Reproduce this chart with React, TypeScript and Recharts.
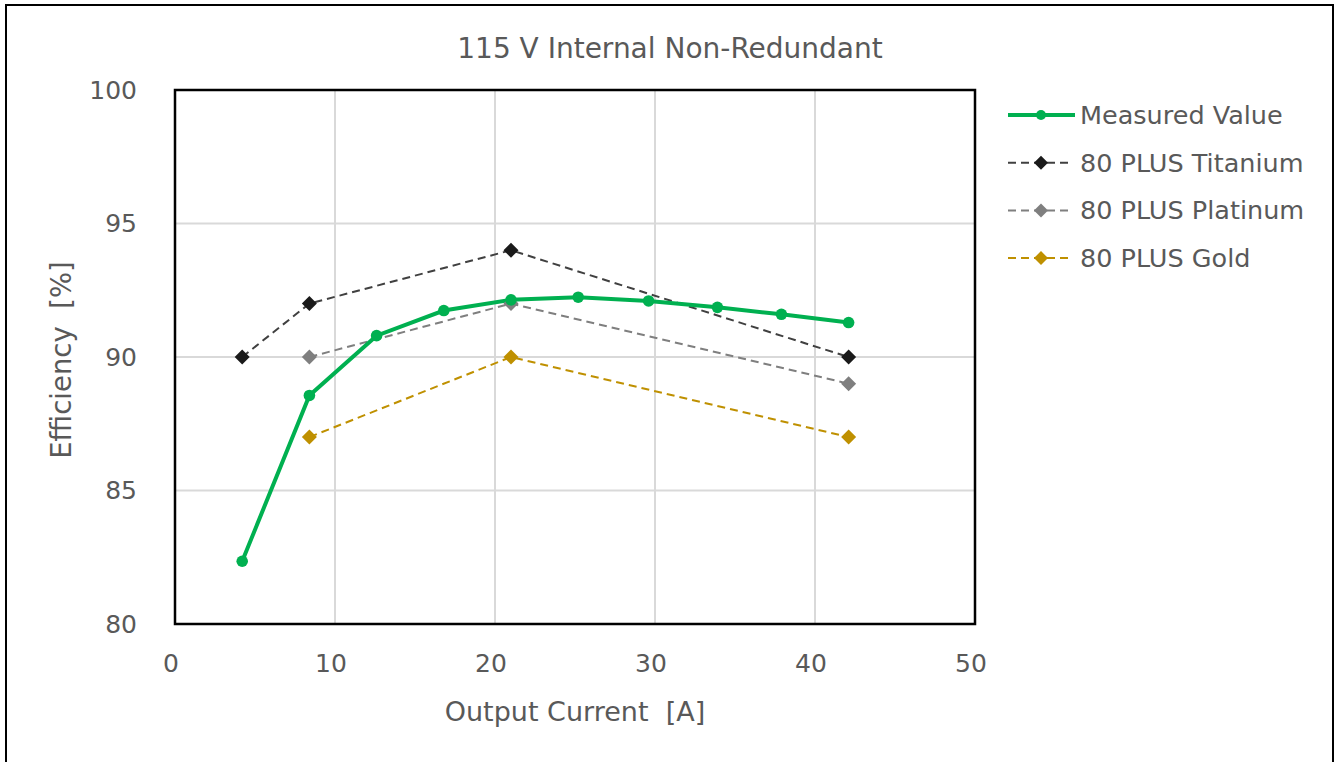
import React from 'react';
import { LineChart, Line, XAxis, YAxis, CartesianGrid, ReferenceArea } from 'recharts';

const FONT = '"DejaVu Sans", Verdana, sans-serif';
const TEXT = '#595959';

const chartTitle = '115 V Internal Non-Redundant';
const xTitle = 'Output Current\u00a0\u00a0[A]';
const yTitle = 'Efficiency\u00a0\u00a0[%]';

const seriesNames = ['Measured Value', '80 PLUS Titanium', '80 PLUS Platinum', '80 PLUS Gold'];

const measuredX = [4.2, 8.4, 12.6, 16.8, 21.0, 25.2, 29.6, 33.9, 37.9, 42.1];
const measuredY = [82.35, 88.56, 90.8, 91.74, 92.14, 92.24, 92.1, 91.86, 91.6, 91.29];
const titaniumX = [4.2, 8.4, 21.0, 42.1];
const titaniumY = [90, 92, 94, 90];
const platinumX = [8.4, 21.0, 42.1];
const platinumY = [90, 92, 89];
const goldX = [8.4, 21.0, 42.1];
const goldY = [87, 90, 87];

const xTicks = [0, 10, 20, 30, 40, 50];
const yTicks = [80, 85, 90, 95, 100];

const GREEN = '#00B050';
const TI_MARK = '#1a1a1a';
const TI_LINE = '#404040';
const PT = '#7f7f7f';
const GOLD = '#BF9000';

const zip = (xs: number[], ys: number[]) => xs.map((x, i) => ({ x, y: ys[i] }));

const measured = zip(measuredX, measuredY);
const titanium = zip(titaniumX, titaniumY);
const platinum = zip(platinumX, platinumY);
const gold = zip(goldX, goldY);

const makeDiamond = (color: string, s: number) => (props: any) => {
  const { cx, cy, index } = props;
  if (cx == null || cy == null) return <g key={index} />;
  return (
    <polygon
      key={index}
      points={`${cx},${cy - s} ${cx + s},${cy} ${cx},${cy + s} ${cx - s},${cy}`}
      fill={color}
      stroke="none"
    />
  );
};

const legendRows = [
  { name: seriesNames[0], color: GREEN, dash: undefined as string | undefined, marker: 'circle', mark: GREEN, w: 4 },
  { name: seriesNames[1], color: TI_LINE, dash: '8 5', marker: 'diamond', mark: TI_MARK, w: 2 },
  { name: seriesNames[2], color: PT, dash: '8 5', marker: 'diamond', mark: PT, w: 2 },
  { name: seriesNames[3], color: GOLD, dash: '8 5', marker: 'diamond', mark: GOLD, w: 2 },
];

export default function App() {
  return (
    <div style={{ position: 'absolute', left: 0, top: 0, width: 1340, height: 762, background: '#fff', overflow: 'hidden' }}>
      <LineChart
        width={1340}
        height={762}
        margin={{ top: 90, right: 365, bottom: 78, left: 0 }}
      >
        <CartesianGrid stroke="#d9d9d9" strokeWidth={2} />
        <XAxis
          type="number"
          dataKey="x"
          domain={[0, 50]}
          ticks={xTicks}
          interval={0}
          height={60}
          axisLine={false}
          tickLine={false}
          tickSize={0}
          tickMargin={30}
          tick={{ fill: TEXT, fontSize: 25, fontFamily: FONT, dx: -4 }}
        />
        <YAxis
          type="number"
          dataKey="y"
          domain={[80, 100]}
          ticks={yTicks}
          interval={0}
          width={175}
          axisLine={false}
          tickLine={false}
          tickSize={0}
          tickMargin={38}
          tick={{ fill: TEXT, fontSize: 25, fontFamily: FONT }}
        />
        <ReferenceArea x1={0} x2={50} y1={80} y2={100} fill="none" stroke="#000" strokeWidth={2.5} ifOverflow="visible" />
        <Line
          data={gold}
          dataKey="y"
          stroke={GOLD}
          strokeWidth={2}
          strokeDasharray="8 5"
          dot={makeDiamond(GOLD, 7.5)}
          activeDot={false}
          isAnimationActive={false}
        />
        <Line
          data={platinum}
          dataKey="y"
          stroke={PT}
          strokeWidth={2}
          strokeDasharray="8 5"
          dot={makeDiamond(PT, 7.5)}
          activeDot={false}
          isAnimationActive={false}
        />
        <Line
          data={titanium}
          dataKey="y"
          stroke={TI_LINE}
          strokeWidth={2}
          strokeDasharray="8 5"
          dot={makeDiamond(TI_MARK, 7.5)}
          activeDot={false}
          isAnimationActive={false}
        />
        <Line
          data={measured}
          dataKey="y"
          stroke={GREEN}
          strokeWidth={4}
          dot={{ r: 5.8, fill: GREEN, stroke: GREEN, strokeWidth: 0 }}
          activeDot={false}
          isAnimationActive={false}
        />
      </LineChart>
      <svg
        width={1340}
        height={762}
        style={{ position: 'absolute', left: 0, top: 0, pointerEvents: 'none' }}
      >
        <text x={670} y={48} textAnchor="middle" dominantBaseline="central" fill={TEXT} fontSize={28} fontFamily={FONT}>
          {chartTitle}
        </text>
        <text x={575} y={711} textAnchor="middle" dominantBaseline="central" fill={TEXT} fontSize={27} fontFamily={FONT}>
          {xTitle}
        </text>
        <text
          x={61}
          y={360}
          textAnchor="middle"
          dominantBaseline="central"
          fill={TEXT}
          fontSize={27.5}
          fontFamily={FONT}
          transform="rotate(-90 61 360)"
        >
          {yTitle}
        </text>
        {legendRows.map((r, i) => {
          const cy = 115 + i * 47.7;
          const x0 = 1008;
          const x1 = r.marker === 'circle' ? 1075 : 1068;
          const mx = 1041;
          return (
            <g key={r.name}>
              <line x1={x0} y1={cy} x2={x1} y2={cy} stroke={r.color} strokeWidth={r.w} strokeDasharray={r.dash} />
              {r.marker === 'circle' ? (
                <circle cx={mx} cy={cy} r={5} fill={r.mark} />
              ) : (
                <polygon points={`${mx},${cy - 7} ${mx + 7},${cy} ${mx},${cy + 7} ${mx - 7},${cy}`} fill={r.mark} />
              )}
              <text x={1080} y={cy} dominantBaseline="central" fill={TEXT} fontSize={25.5} fontFamily={FONT}>
                {r.name}
              </text>
            </g>
          );
        })}
      </svg>
      <div
        style={{
          position: 'absolute',
          left: 5,
          top: 4,
          width: 1329,
          height: 820,
          border: '2px solid #000',
          boxSizing: 'border-box',
          pointerEvents: 'none',
        }}
      />
    </div>
  );
}
